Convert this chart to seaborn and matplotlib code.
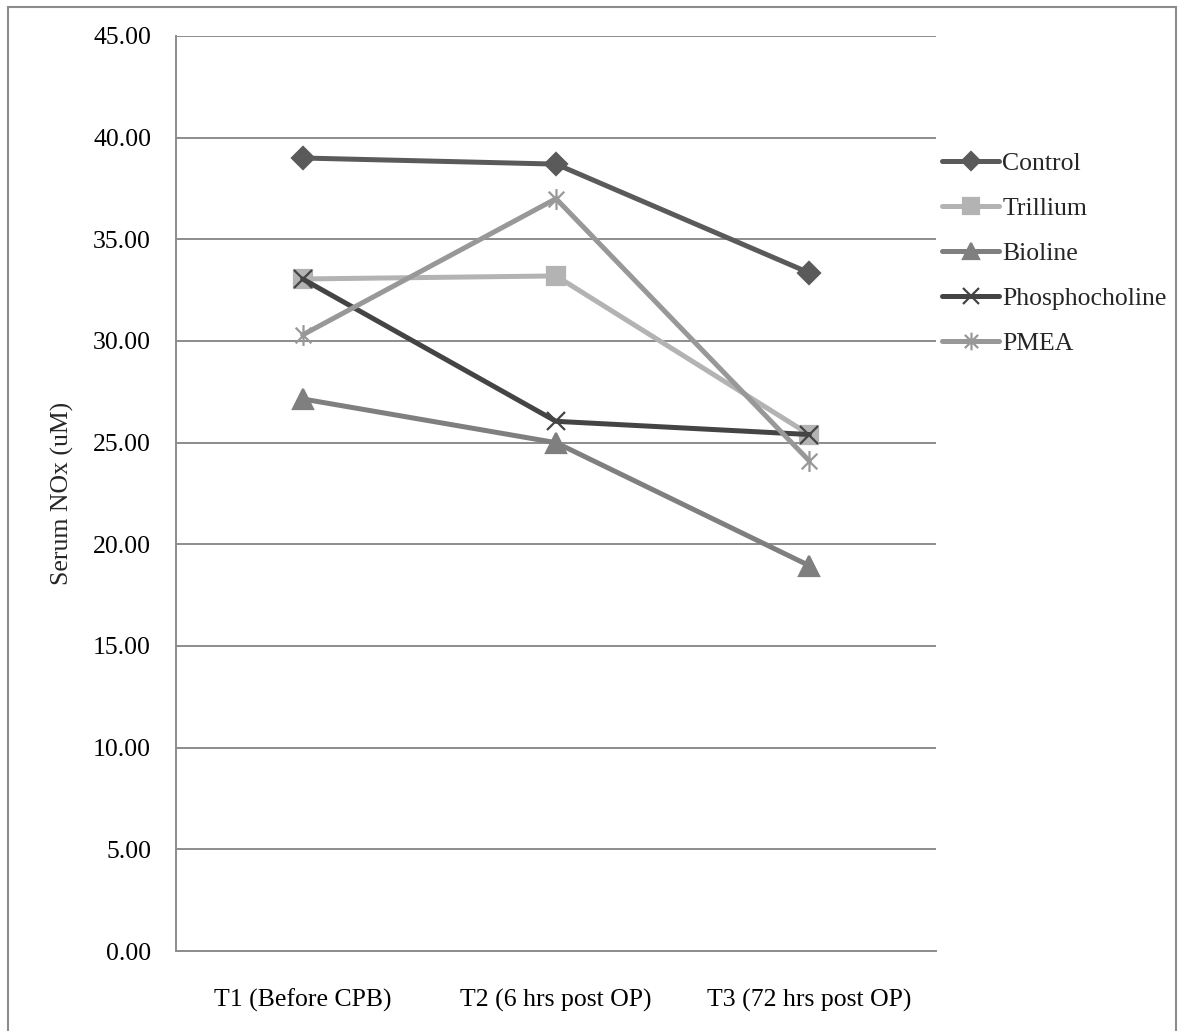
import matplotlib.pyplot as plt
from matplotlib.patches import Rectangle
from matplotlib.path import Path
import seaborn as sns
import pandas as pd

# values
timepoints = ['T1 (Before CPB)', 'T2 (6 hrs post OP)', 'T3 (72 hrs post OP)']
groups = ['Control', 'Trillium', 'Bioline', 'Phosphocholine', 'PMEA']
control = [39.0, 38.7, 33.35]
trillium = [33.05, 33.2, 25.4]
bioline = [27.15, 25.0, 18.95]
phosphocholine = [33.05, 26.05, 25.4]
pmea = [30.3, 37.0, 24.1]
y_ticks = [0, 5, 10, 15, 20, 25, 30, 35, 40, 45]

series = [control, trillium, bioline, phosphocholine, pmea]
df = pd.DataFrame({
    'time': timepoints * len(groups),
    'group': [g for g in groups for _ in timepoints],
    'nox': [v for s in series for v in s],
})

# Excel-like star: an x with a vertical bar through it
star = Path([(0, -1), (0, 1), (-0.75, -0.75), (0.75, 0.75), (-0.75, 0.75), (0.75, -0.75)],
            [Path.MOVETO, Path.LINETO, Path.MOVETO, Path.LINETO, Path.MOVETO, Path.LINETO])

colors = ['#5a5a5a', '#b3b3b3', '#7f7f7f', '#444444', '#989898']
markers = ['D', 's', '^', 'x', star]
msizes = [11, 13, 14, 13, 15]
fs = 18.5

sns.set_style('white')
plt.rcParams['font.family'] = ['Liberation Serif', 'DejaVu Serif']

fig = plt.figure(figsize=(11.8, 10.31), dpi=100)
ax = fig.add_axes([176 / 1180, 1 - 951 / 1031, 760 / 1180, 915 / 1031])

for g, c, m, ms in zip(groups, colors, markers, msizes):
    sub = df[df['group'] == g]
    sns.lineplot(data=sub, x='time', y='nox', color=c, marker=m,
                 markersize=ms, markeredgewidth=1.6, markeredgecolor=c,
                 linewidth=3.6, sort=False, label=g, ax=ax)

ax.set_xlim(-0.5, 2.5)
ax.set_ylim(0, 45)
ax.set_yticks(y_ticks)
ax.set_yticklabels(['%.2f' % t for t in y_ticks])
ax.yaxis.grid(True, color='#8c8c8c', linewidth=1.4)
ax.set_axisbelow(True)
for side in ['top', 'right']:
    ax.spines[side].set_visible(False)
for side in ['left', 'bottom']:
    ax.spines[side].set_color('#8c8c8c')
    ax.spines[side].set_linewidth(1.4)
ax.tick_params(length=0, labelsize=fs, colors='black', pad=18)
ax.tick_params(axis='x', pad=27)
ax.set_xlabel('')
ax.set_ylabel('Serum NOx (uM)', fontsize=fs, labelpad=14)

handles, labels = ax.get_legend_handles_labels()
ax.legend(handles, labels, loc='upper left', bbox_to_anchor=(0.995, 0.884),
          frameon=False, fontsize=fs, handlelength=2.2, handletextpad=0.12,
          labelspacing=0.85, borderaxespad=0, markerscale=0.85)

# outer chart border
fig.patches.append(Rectangle((8 / 1180, -0.05), 1168 / 1180, 1.05 - 7 / 1031,
                             transform=fig.transFigure, fill=False,
                             edgecolor='#8c8c8c', linewidth=1.5))

plt.savefig('out.png', dpi=100)
